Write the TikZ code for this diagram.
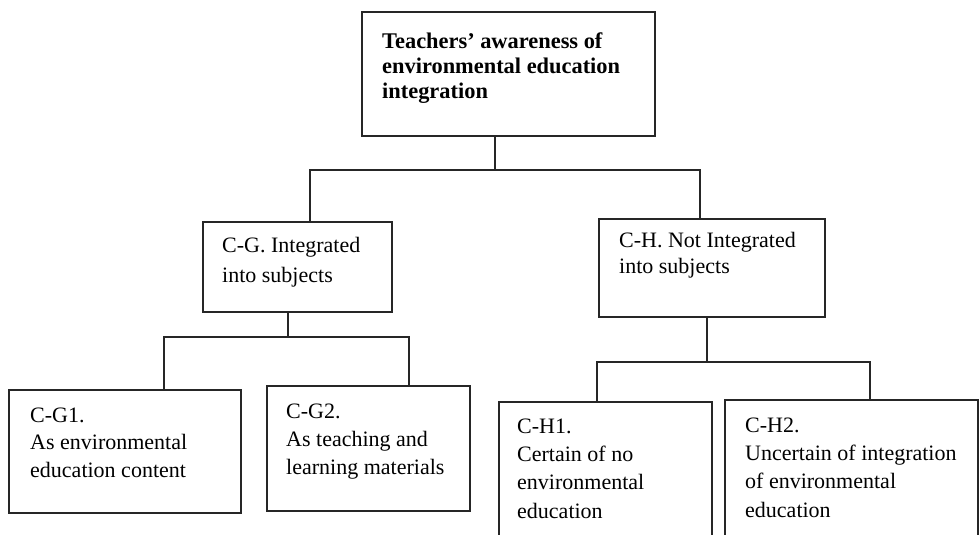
\documentclass[tikz,border=0pt]{standalone}
\usepackage{fontspec}
\setmainfont{Liberation Serif}
\newcommand\firstline{\rule{0pt}{16pt}}
\begin{document}
\begin{tikzpicture}[x=1pt,y=-1pt,
  frame/.style={draw=black!85, line width=1.3pt, inner sep=0pt, outer sep=0pt,
                anchor=north west},
  link/.style={draw=black!85, line width=1.2pt},
  boxtext/.style={anchor=north west, inner sep=0pt, align=left,
                  font=\fontsize{22}{28}\selectfont},
]
\clip (0,0) rectangle (980,535);

% boxes
\node[frame, minimum width=293, minimum height=124] (root) at (362,12) {};
\node[frame, minimum width=189, minimum height=90]  (cg)   at (203,222) {};
\node[frame, minimum width=226, minimum height=98]  (ch)   at (599,219) {};
\node[frame, minimum width=232, minimum height=123] (cga)  at (9,390) {};
\node[frame, minimum width=203, minimum height=125] (cgb)  at (267,386) {};
\node[frame, minimum width=213, minimum height=150] (cha)  at (499,402) {};
\node[frame, minimum width=253, minimum height=150] (chb)  at (725,400) {};

% texts
\node[boxtext, font=\fontsize{22.4}{25}\selectfont\bfseries] (troot) at (382,32)
  {\firstline Teachers’ awareness of\\environmental education\\integration};
\node[boxtext, font=\fontsize{22}{30}\selectfont] (tcg) at (222,236)
  {\firstline C-G. Integrated\\into subjects};
\node[boxtext, font=\fontsize{22}{26}\selectfont] (tch) at (619,231)
  {\firstline C-H. Not Integrated\\into subjects};
\node[boxtext, font=\fontsize{22}{27.5}\selectfont] (tcga) at (30,406)
  {\firstline C-G1.\\As environmental\\education content};
\node[boxtext] (tcgb) at (286,402)
  {\firstline C-G2.\\As teaching and\\learning materials};
\node[boxtext, font=\fontsize{22}{28.3}\selectfont] (tcha) at (517,417)
  {\firstline C-H1.\\Certain of no\\environmental\\education};
\node[boxtext, font=\fontsize{22}{28.3}\selectfont] (tchb) at (745,416)
  {\firstline C-H2.\\Uncertain of integration\\of environmental\\education};

% junction points of the connectors
\coordinate (j0)   at (495,170);
\coordinate (busL) at (310,170);
\coordinate (busR) at (700,170);
\coordinate (jg)   at (288,337);
\coordinate (gL)   at (164,337);
\coordinate (gR)   at (409,337);
\coordinate (jh)   at (707,362);
\coordinate (hL)   at (597,362);
\coordinate (hR)   at (870,362);

% connectors
\draw[link] (root.south -| j0) -- (j0);
\draw[link] (cg.north -| busL) -- (busL) -- (busR) -- (ch.north -| busR);
\draw[link] (cg.south -| jg) -- (jg);
\draw[link] (cga.north -| gL) -- (gL) -- (gR) -- (cgb.north -| gR);
\draw[link] (ch.south -| jh) -- (jh);
\draw[link] (cha.north -| hL) -- (hL) -- (hR) -- (chb.north -| hR);
\end{tikzpicture}
\end{document}
